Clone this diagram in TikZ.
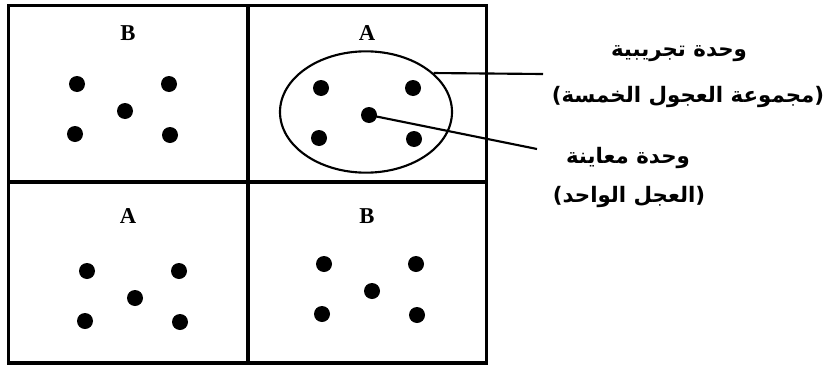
\documentclass[tikz,border=0pt]{standalone}
\usepackage{fontspec}
\setmainfont{Liberation Serif}
\newfontfamily\arabicfont[Script=Arabic]{DejaVu Sans}
\TeXXeTstate=1
\usetikzlibrary{shapes.geometric}
\tikzset{
  frame/.style    = {draw=black, line width=2.4pt},
  grp/.style      = {font=\fontsize{17}{20}\selectfont\bfseries, inner sep=0pt},
  calf/.style     = {circle, fill=black, inner sep=0pt, minimum size=12pt},
  unitring/.style = {ellipse, draw=black, line width=1.6pt, inner sep=0pt,
                     minimum width=129pt, minimum height=91pt},
  lead/.style     = {draw=black, line width=1.6pt},
  note/.style     = {font=\arabicfont\bfseries\fontsize{16}{19}\selectfont, inner sep=0pt},
}
\begin{document}
\begin{tikzpicture}[x=0.75pt, y=-0.75pt]
  \useasboundingbox (0,0) rectangle (832,368);
  % field plan: four plots
  \draw[frame] (8.5,5.5) rectangle (486.5,363);
  \draw[frame] (248,5.5) -- (248,363);
  \draw[frame] (8.5,182) -- (486.5,182);
  \foreach \cx/\cy/\lx/\ly/\g/\n in {125/111/128/33/B/tl, 369/115/367/33/A/tr,
                                     135/298/128/216/A/bl, 372/291/367/216/B/br} {
    \node[grp] (lab-\n) at (\lx,\ly) {\g};
    \foreach \dx/\dy [count=\k] in {-48/-27, 44/-27, 0/0, -50/23, 45/24}
      \node[calf] (\n-\k) at (\cx+\dx,\cy+\dy) {};
  }
  \node[unitring] (trial) at (366,112) {};
  % labels
  \node[note] (expt1) at (679,54) {\beginR وحدة تجريبية\endR};
  \node[note] (expt2) at (688,97) {\beginR (مجموعة العجول الخمسة)\endR};
  \node[note] (samp1) at (628,158) {\beginR وحدة معاينة\endR};
  \node[note] (samp2) at (629,197) {\beginR (العجل الواحد)\endR};
  \coordinate (tipU) at (543,74);
  \coordinate (tipL) at (537,149);
  \draw[lead] (trial.30) -- (tipU);
  \draw[lead] (tr-3.center) -- (tipL);
\end{tikzpicture}
\end{document}
